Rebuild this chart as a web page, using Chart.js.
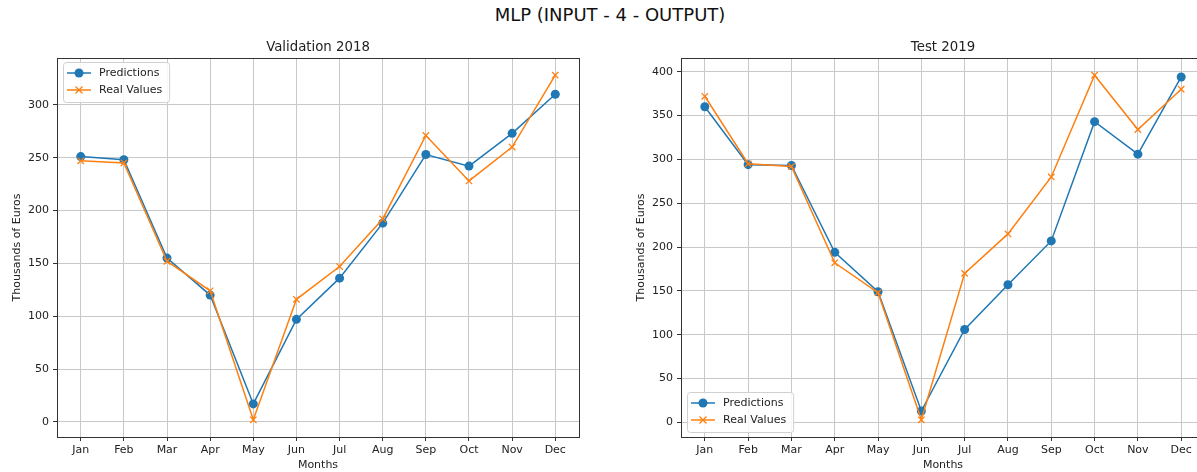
<!DOCTYPE html>
<html lang="en">
<head>
<meta charset="UTF-8">
<title>MLP (INPUT - 4 - OUTPUT)</title>
<script src="https://cdn.jsdelivr.net/npm/chart.js"></script>
<style>
    body { margin: 0; width: 1197px; height: 472px; overflow: hidden; background: #fff; position: relative; font-family: "DejaVu Sans", sans-serif; }
    #sup { position: absolute; top: 4px; left: 410px; width: 400px; text-align: center; font-size: 18px; color: #111; white-space: nowrap; }
    #c1 { position: absolute; left: 0; top: 0; }
    #c2 { position: absolute; left: 600px; top: 0; }
</style>
</head>
<body>
<div id="sup">MLP (INPUT - 4 - OUTPUT)</div>
<canvas id="c1" width="600" height="472"></canvas>
<canvas id="c2" width="620" height="472"></canvas>
<script>
// data
const months = ['Jan', 'Feb', 'Mar', 'Apr', 'May', 'Jun', 'Jul', 'Aug', 'Sep', 'Oct', 'Nov', 'Dec'];

const predVal2018 = [251, 248, 155, 120, 17, 97, 136, 188, 253, 242, 273, 310];
const realVal2018 = [247, 245, 152, 124, 2, 116, 147, 192, 271, 228, 260, 328];

const predTest2019 = [360, 294, 293, 194, 149, 13, 106, 157, 207, 343, 306, 394];
const realTest2019 = [372, 295, 292, 182, 148, 3, 170, 215, 280, 396, 334, 380];

const yTicksVal = [0, 50, 100, 150, 200, 250, 300];
const yTicksTest = [0, 50, 100, 150, 200, 250, 300, 350, 400];

const BLUE = '#1f77b4';
const ORANGE = '#ff7f0e';
const FONT = '"DejaVu Sans", sans-serif';

// draws the box around the axes, the subplot title and a matplotlib-like legend
const framePlugin = {
    id: 'frame',
    afterDraw(chart, args, opts) {
        const ctx = chart.ctx;
        const a = chart.chartArea;
        ctx.save();
        ctx.strokeStyle = '#333';
        ctx.lineWidth = 1;
        ctx.strokeRect(Math.round(a.left) + 0.5, Math.round(a.top) + 0.5, Math.round(a.right - a.left), Math.round(a.bottom - a.top));

        ctx.fillStyle = '#222';
        ctx.font = '13.3px ' + FONT;
        ctx.textAlign = 'center';
        ctx.textBaseline = 'alphabetic';
        ctx.fillText(opts.title, (a.left + a.right) / 2, a.top - 7);

        // legend
        ctx.font = '11px ' + FONT;
        const sets = chart.data.datasets;
        const tw = Math.max(...sets.map(d => ctx.measureText(d.label).width));
        const w = 36 + tw + 7, h = 40;
        const x = a.left + 6;
        const y = opts.legend === 'upper' ? a.top + 4 : a.bottom - 5 - h;
        ctx.fillStyle = 'rgba(255,255,255,0.85)';
        ctx.strokeStyle = '#d0d0d0';
        ctx.beginPath();
        ctx.roundRect(x + 0.5, y + 0.5, w, h, 3);
        ctx.fill();
        ctx.stroke();
        sets.forEach((d, i) => {
            const cy = y + 11 + 17 * i;
            ctx.strokeStyle = d.borderColor;
            ctx.lineWidth = 1.5;
            ctx.beginPath();
            ctx.moveTo(x + 4, cy);
            ctx.lineTo(x + 28, cy);
            ctx.stroke();
            const mx = x + 16;
            if (d.pointStyle === 'circle') {
                ctx.fillStyle = d.borderColor;
                ctx.beginPath();
                ctx.arc(mx, cy, 4.5, 0, Math.PI * 2);
                ctx.fill();
            } else {
                ctx.lineWidth = 1.3;
                ctx.beginPath();
                ctx.moveTo(mx - 3.5, cy - 3.5); ctx.lineTo(mx + 3.5, cy + 3.5);
                ctx.moveTo(mx - 3.5, cy + 3.5); ctx.lineTo(mx + 3.5, cy - 3.5);
                ctx.stroke();
            }
            ctx.fillStyle = '#222';
            ctx.textAlign = 'left';
            ctx.textBaseline = 'middle';
            ctx.fillText(d.label, x + 36, cy + 0.5);
        });
        ctx.restore();
    }
};

function makeChart(id, title, pred, real, yTicks, area, legendPos) {
    const canvas = document.getElementById(id);
    // matplotlib default 5% margin around the data
    const all = pred.concat(real);
    const lo = Math.min(...all), hi = Math.max(...all);
    const m = (hi - lo) * 0.05;

    return new Chart(canvas, {
        type: 'line',
        data: {
            datasets: [{
                label: 'Predictions',
                data: months.map((mo, i) => ({ x: i, y: pred[i] })),
                borderColor: BLUE,
                backgroundColor: BLUE,
                borderWidth: 1.5,
                pointStyle: 'circle',
                pointRadius: 4.5,
                pointBorderWidth: 0,
                order: 2
            }, {
                label: 'Real Values',
                data: months.map((mo, i) => ({ x: i, y: real[i] })),
                borderColor: ORANGE,
                backgroundColor: ORANGE,
                borderWidth: 1.5,
                pointStyle: 'crossRot',
                pointRadius: 4.5,
                pointBorderWidth: 1.3,
                order: 1
            }]
        },
        options: {
            responsive: false,
            animation: false,
            devicePixelRatio: 1,
            layout: { padding: { left: 0, top: area.top, right: canvas.width - area.right, bottom: 0 } },
            plugins: {
                legend: { display: false },
                tooltip: { enabled: false },
                frame: { title: title, legend: legendPos }
            },
            scales: {
                x: {
                    type: 'linear',
                    min: -0.55,
                    max: 11.55,
                    afterBuildTicks: s => { s.ticks = months.map((mo, i) => ({ value: i })); },
                    afterFit: s => { s.height = canvas.height - area.bottom; },
                    ticks: {
                        callback: v => months[v],
                        autoSkip: false,
                        maxRotation: 0,
                        padding: 3,
                        color: '#222',
                        font: { family: FONT, size: 11 }
                    },
                    grid: { color: '#c8c8c8', tickColor: '#333', tickLength: 4 },
                    border: { display: false },
                    title: {
                        display: true,
                        text: 'Months',
                        color: '#222',
                        font: { family: FONT, size: 11 },
                        padding: { top: 0, bottom: 0 }
                    }
                },
                y: {
                    min: lo - m,
                    max: hi + m,
                    afterBuildTicks: s => { s.ticks = yTicks.map(v => ({ value: v })); },
                    afterFit: s => { s.width = area.left; },
                    ticks: {
                        padding: 4,
                        color: '#222',
                        font: { family: FONT, size: 11 }
                    },
                    grid: { color: '#c8c8c8', tickColor: '#333', tickLength: 4 },
                    border: { display: false },
                    title: {
                        display: true,
                        text: 'Thousands of Euros',
                        color: '#222',
                        font: { family: FONT, size: 11 },
                        padding: { top: area.left - 40 - 6.6, bottom: 0 }
                    }
                }
            }
        },
        plugins: [framePlugin]
    });
}

makeChart('c1', 'Validation 2018', predVal2018, realVal2018, yTicksVal,
    { left: 57, top: 58, right: 579, bottom: 437 }, 'upper');
makeChart('c2', 'Test 2019', predTest2019, realTest2019, yTicksTest,
    { left: 81, top: 58, right: 605, bottom: 437 }, 'lower');
</script>
</body>
</html>
